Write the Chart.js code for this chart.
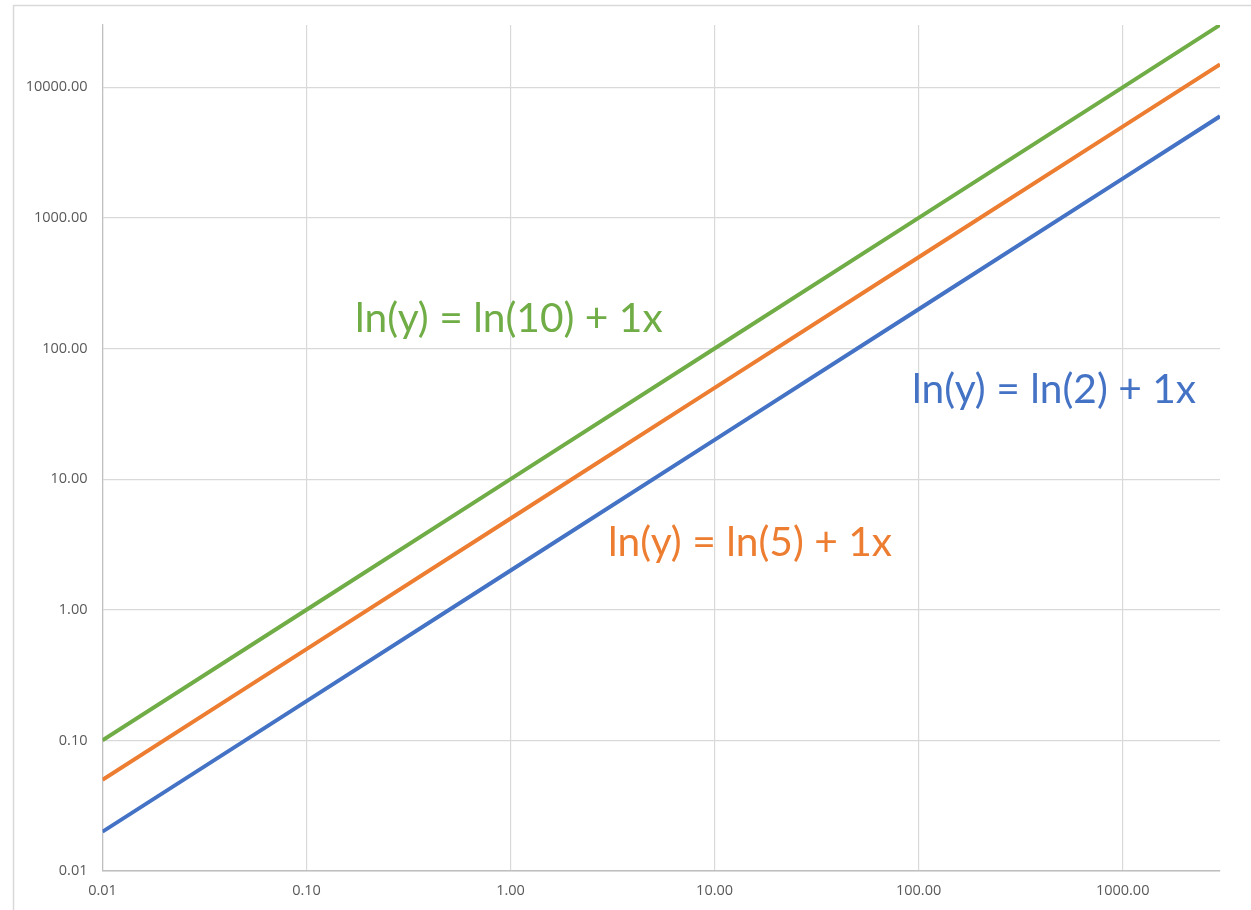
<!DOCTYPE html>
<html>
<head>
<meta charset="utf-8">
<script src="https://cdn.jsdelivr.net/npm/chart.js@4.4.1/dist/chart.umd.min.js"></script>
<style>
  html, body { margin: 0; padding: 0; background: #fff; }
  #wrap { width: 1251px; height: 910px; position: relative; }
</style>
</head>
<body>
<div id="wrap"><canvas id="chart"></canvas></div>
<script>
// Data (log-log, y = k * x)
const xValues = [0.01, 0.1, 1, 10, 100, 1000, 3000];
const blueY = [0.02, 0.2, 2, 20, 200, 2000, 6000];
const orangeY = [0.05, 0.5, 5, 50, 500, 5000, 15000];
const greenY = [0.1, 1, 10, 100, 1000, 10000, 30000];
const xTicks = [0.01, 0.1, 1, 10, 100, 1000];
const yTicks = [0.01, 0.1, 1, 10, 100, 1000, 10000];
const labelTexts = ['ln(y) = ln(10) + 1x', 'ln(y) = ln(5) + 1x', 'ln(y) = ln(2) + 1x'];

const COLORS = { blue: '#4472C4', orange: '#ED7D31', green: '#70AD47', grid: '#d9d9d9', text: '#595959' };

function toPoints(ys) {
  return xValues.map((x, i) => ({ x: x, y: ys[i] }));
}

// Frame line of the chart area (left and top edges visible)
const framePlugin = {
  id: 'frame',
  beforeDraw: function(chart) {
    const ctx = chart.ctx;
    ctx.save();
    ctx.fillStyle = '#fff';
    ctx.fillRect(0, 0, chart.width, chart.height);
    ctx.strokeStyle = '#d9d9d9';
    ctx.lineWidth = 1.5;
    ctx.strokeRect(13.5, 5.5, chart.width + 20, chart.height + 20);
    ctx.restore();
  }
};

// Equation labels
const equationPlugin = {
  id: 'equations',
  afterDatasetsDraw: function(chart, args, opts) {
    const ctx = chart.ctx;
    ctx.save();
    ctx.font = opts.font;
    ctx.textBaseline = 'alphabetic';
    ctx.textAlign = 'left';
    opts.items.forEach(item => {
      ctx.fillStyle = item.color;
      ctx.fillText(item.text, item.left, item.baseline);
    });
    ctx.restore();
  }
};

new Chart(document.getElementById('chart').getContext('2d'), {
  type: 'scatter',
  data: {
    datasets: [
      { label: 'green', data: toPoints(greenY), borderColor: COLORS.green, borderWidth: 4, showLine: true, pointRadius: 0 },
      { label: 'green trend', data: toPoints(greenY), borderColor: '#9a9a9a', borderWidth: 2, borderDash: [2, 2.5], showLine: true, pointRadius: 0 },
      { label: 'orange', data: toPoints(orangeY), borderColor: COLORS.orange, borderWidth: 4, showLine: true, pointRadius: 0 },
      { label: 'blue', data: toPoints(blueY), borderColor: COLORS.blue, borderWidth: 4, showLine: true, pointRadius: 0 }
    ]
  },
  options: {
    responsive: true,
    maintainAspectRatio: false,
    animation: false,
    layout: { padding: { left: 0, right: 31, top: 25, bottom: 0 } },
    scales: {
      x: {
        type: 'logarithmic',
        min: 0.01,
        max: 3000,
        afterBuildTicks: function(scale) { scale.ticks = xTicks.map(v => ({ value: v })); },
        afterFit: function(scale) { scale.height = 39; },
        grid: { color: COLORS.grid, lineWidth: 1.2, drawTicks: false },
        border: { color: '#bfbfbf', width: 1.5 },
        ticks: {
          color: COLORS.text,
          font: { family: 'Open Sans', size: 14.5 },
          padding: 11,
          maxRotation: 0,
          autoSkip: false,
          callback: function(v) { return Number(v).toFixed(2); }
        }
      },
      y: {
        type: 'logarithmic',
        min: 0.01,
        max: 30000,
        afterBuildTicks: function(scale) { scale.ticks = yTicks.map(v => ({ value: v })); },
        afterFit: function(scale) { scale.width = 102.5; },
        grid: { color: COLORS.grid, lineWidth: 1.2, drawTicks: false },
        border: { color: '#bfbfbf', width: 1.2 },
        ticks: {
          color: COLORS.text,
          font: { family: 'Open Sans', size: 14.5 },
          padding: 15,
          autoSkip: false,
          callback: function(v) { return Number(v).toFixed(2); }
        }
      }
    },
    plugins: {
      legend: { display: false },
      tooltip: { enabled: false },
      equations: {
        font: '40.7px Lato',
        items: [
          { text: labelTexts[0], color: COLORS.green, left: 355, baseline: 332 },
          { text: labelTexts[1], color: COLORS.orange, left: 608, baseline: 556 },
          { text: labelTexts[2], color: COLORS.blue, left: 912, baseline: 403 }
        ]
      }
    }
  },
  plugins: [framePlugin, equationPlugin]
});
</script>
</body>
</html>
